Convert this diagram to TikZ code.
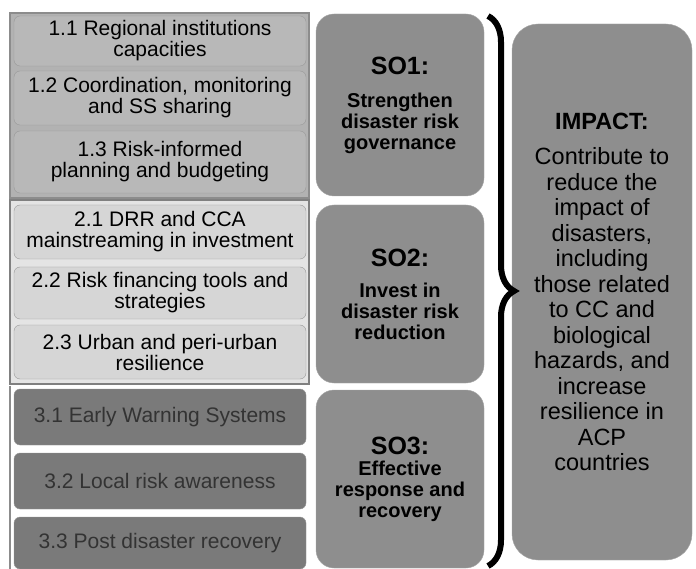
\documentclass[tikz,border=0pt]{standalone}
\usepackage{fontspec}
\setmainfont{Liberation Sans}
\usetikzlibrary{decorations.pathreplacing}

\definecolor{frameone}{HTML}{B2B2B2}
\definecolor{itemone}{HTML}{B8B8B8}
\definecolor{frametwo}{HTML}{E4E4E4}
\definecolor{itemtwo}{HTML}{D6D6D6}
\definecolor{itemthree}{HTML}{7A7A7A}
\definecolor{sobox}{HTML}{8E8E8E}

\newcommand{\sotitle}[1]{{\fontsize{25}{28}\selectfont #1}}

\begin{document}
\begin{tikzpicture}
        [x=1pt,y=-1pt,
        item/.style={rectangle,rounded corners=6pt,draw=gray!80,minimum width=292pt,align=center,font=\fontsize{21}{21}\selectfont},
        so node/.style={rectangle,rounded corners=18pt,draw=gray!70,fill=sobox,minimum width=168pt,minimum height=178pt,align=center,font=\bfseries\fontsize{20}{21}\selectfont},
        group/.style={draw=gray!90,line width=1.2pt}]

    \useasboundingbox (0,0) rectangle (696,569);

    % group frames
    \filldraw[group,fill=frameone] (10,13) rectangle (309,198);
    \filldraw[group,fill=frametwo,draw=gray] (10,200) rectangle (309,384);
    \draw[group] (10,386) -- (10,569);

    % result areas
    \node[item,fill=itemone,minimum height=50pt] (r11) at (160,41) {1.1 Regional institutions\\capacities};
    \node[item,fill=itemone,minimum height=54pt] (r12) at (160,98) {1.2 Coordination, monitoring\\and SS sharing};
    \node[item,fill=itemone,minimum height=62pt] (r13) at (160,162) {1.3 Risk-informed\\planning and budgeting};

    \node[item,fill=itemtwo,minimum height=54pt] (r21) at (160,232) {2.1 DRR and CCA\\mainstreaming in investment};
    \node[item,fill=itemtwo,minimum height=52pt] (r22) at (160,293) {2.2 Risk financing tools and\\strategies};
    \node[item,fill=itemtwo,minimum height=54pt] (r23) at (160,352) {2.3 Urban and peri-urban\\resilience};

    \node[item,fill=itemthree,text=black!80,minimum height=56pt] (r31) at (160,417) {3.1 Early Warning Systems};
    \node[item,fill=itemthree,text=black!80,minimum height=56pt] (r32) at (160,481) {3.2 Local risk awareness};
    \node[item,fill=itemthree,text=black!80,minimum height=52pt] (r33) at (160,543) {3.3 Post disaster recovery};

    % specific objectives
    \node[so node,minimum height=182pt] (so1) at (400,105) {\sotitle{SO1:}\\[12pt]Strengthen\\disaster risk\\governance};
    \node[so node] (so2) at (400,294) {\sotitle{SO2:}\\[10pt]Invest in\\disaster risk\\reduction};
    \node[so node] (so3) at (400,479) {\sotitle{SO3:}\\Effective\\response and\\recovery};

    % overall objective
    \node[rectangle,rounded corners=26pt,draw=gray!70,fill=sobox,minimum width=180pt,minimum height=536pt,align=center,font=\fontsize{23.5}{25.5}\selectfont] (impact) at (602,292)
        {\textbf{IMPACT:}\\[10pt]Contribute to\\reduce the\\impact of\\disasters,\\including\\those related\\to CC and\\biological\\hazards,  and\\increase\\resilience in\\ACP\\countries};

    \coordinate (btop) at (488,16);
    \coordinate (bbot) at (488,566);
    \draw[line width=6pt,decorate,decoration={brace,amplitude=26pt,aspect=0.5}] (btop) -- (bbot);

\end{tikzpicture}
\end{document}
